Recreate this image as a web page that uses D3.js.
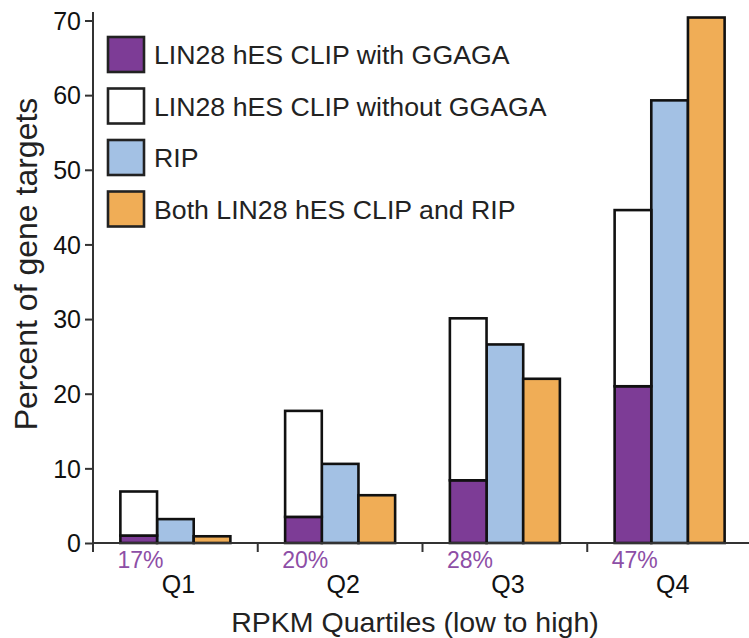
<!DOCTYPE html>
<html>
<head>
<meta charset="utf-8">
<script src="https://cdn.jsdelivr.net/npm/d3@7"></script>
<style>
  html, body { margin: 0; padding: 0; background: #fff; }
  svg { display: block; font-family: "Liberation Sans", Arial, Helvetica, sans-serif; }
</style>
</head>
<body>
<svg id="chart" width="749" height="638"></svg>
<script>
// RPKM quartiles and percent of gene targets per group
const quartiles = ["Q1", "Q2", "Q3", "Q4"];
const clipWithGGAGA = [1.0, 3.5, 8.4, 21.0];
const clipWithoutGGAGA = [5.9, 14.2, 21.7, 23.6];
const ripTargets = [3.2, 10.6, 26.6, 59.3];
const bothClipAndRip = [0.9, 6.4, 22.0, 70.4];
const ggagaShare = ["17%", "20%", "28%", "47%"];
const yTicks = [0, 10, 20, 30, 40, 50, 60, 70];

const legendItems = [
  { label: "LIN28 hES CLIP with GGAGA", color: "#7d3c96" },
  { label: "LIN28 hES CLIP without GGAGA", color: "#ffffff" },
  { label: "RIP", color: "#a3c1e4" },
  { label: "Both LIN28 hES CLIP and RIP", color: "#f0ad56" }
];

const svg = d3.select("#chart");
const x0 = 93, x1 = 752, yBase = 543;

const x = d3.scaleBand().domain(quartiles).range([x0, x1]).padding(0);
const y = d3.scaleLinear().domain([0, 70]).range([yBase, 20.5]);
const slots = ["clip", "rip", "both"];
const xi = d3.scaleBand().domain(slots)
  .range([x.bandwidth() / 2 - 55, x.bandwidth() / 2 + 55]).padding(0);

const rows = quartiles.map((q, i) => ({
  q, withG: clipWithGGAGA[i], withoutG: clipWithoutGGAGA[i],
  rip: ripTargets[i], both: bothClipAndRip[i], share: ggagaShare[i]
}));

const stack = d3.stack().keys(["withG", "withoutG"])(rows);
const stackColors = { withG: legendItems[0].color, withoutG: legendItems[1].color };

const barStroke = "#111";
const barStrokeW = 2.6;

const groups = svg.append("g").selectAll("g")
  .data(rows).join("g")
  .attr("transform", d => `translate(${x(d.q)},0)`);

// CLIP bars: with-GGAGA part at the bottom, remainder above
stack.forEach(layer => {
  svg.append("g").selectAll("rect")
    .data(layer).join("rect")
    .attr("x", d => x(d.data.q) + xi("clip"))
    .attr("width", xi.bandwidth())
    .attr("y", d => y(d[1]))
    .attr("height", d => y(d[0]) - y(d[1]))
    .attr("fill", stackColors[layer.key])
    .attr("stroke", barStroke)
    .attr("stroke-width", barStrokeW);
});

groups.append("rect")
  .attr("x", xi("rip"))
  .attr("width", xi.bandwidth())
  .attr("y", d => y(d.rip))
  .attr("height", d => yBase - y(d.rip))
  .attr("fill", legendItems[2].color)
  .attr("stroke", barStroke)
  .attr("stroke-width", barStrokeW);

groups.append("rect")
  .attr("x", xi("both"))
  .attr("width", xi.bandwidth())
  .attr("y", d => y(d.both))
  .attr("height", d => yBase - y(d.both))
  .attr("fill", legendItems[3].color)
  .attr("stroke", barStroke)
  .attr("stroke-width", barStrokeW);

// Axes
const axisColor = "#333";
const yAxis = svg.append("g")
  .attr("transform", `translate(${x0},0)`)
  .call(d3.axisLeft(y).tickValues(yTicks).tickSize(8).tickPadding(4));
yAxis.select(".domain").remove();
yAxis.append("line").attr("x1", 0).attr("x2", 0).attr("y1", 12).attr("y2", yBase + 9)
  .attr("stroke", axisColor).attr("stroke-width", 2);
yAxis.selectAll(".tick line").attr("stroke", axisColor).attr("stroke-width", 2);
yAxis.selectAll(".tick text")
  .attr("font-size", 25).attr("fill", "#111").attr("dy", "0.35em");

svg.append("line")
  .attr("x1", x0).attr("x2", 749).attr("y1", yBase).attr("y2", yBase)
  .attr("stroke", axisColor).attr("stroke-width", 2);
svg.append("g").selectAll("line")
  .data(quartiles.slice(1)).join("line")
  .attr("x1", d => x(d)).attr("x2", d => x(d))
  .attr("y1", yBase).attr("y2", yBase + 9)
  .attr("stroke", axisColor).attr("stroke-width", 2);

// Quartile labels and GGAGA share
svg.append("g").selectAll("text")
  .data(rows).join("text")
  .attr("x", d => x(d.q) + x.bandwidth() / 2 + 3)
  .attr("y", 593)
  .attr("text-anchor", "middle")
  .attr("font-size", 25)
  .attr("fill", "#111")
  .text(d => d.q);

svg.append("g").selectAll("text")
  .data(rows).join("text")
  .attr("x", d => x(d.q) + xi("clip") - 3)
  .attr("y", 568)
  .attr("font-size", 23)
  .attr("fill", "#8d4ea6")
  .text(d => d.share);

// Axis titles
svg.append("text")
  .attr("x", 415).attr("y", 632)
  .attr("text-anchor", "middle")
  .attr("font-size", 28.5)
  .attr("fill", "#222")
  .text("RPKM Quartiles (low to high)");

svg.append("text")
  .attr("transform", "translate(37,264) rotate(-90)")
  .attr("text-anchor", "middle")
  .attr("font-size", 32)
  .attr("fill", "#222")
  .text("Percent of gene targets");

// Legend
const legend = svg.append("g").attr("transform", "translate(108,37)");
const leg = legend.selectAll("g").data(legendItems).join("g")
  .attr("transform", (d, i) => `translate(0,${i * 51.5})`);
leg.append("rect")
  .attr("width", 36).attr("height", 35)
  .attr("fill", d => d.color)
  .attr("stroke", "#222").attr("stroke-width", 2.6);
leg.append("text")
  .attr("x", 46).attr("y", 27)
  .attr("font-size", 26.7)
  .attr("fill", "#222")
  .text(d => d.label);
</script>
</body>
</html>
